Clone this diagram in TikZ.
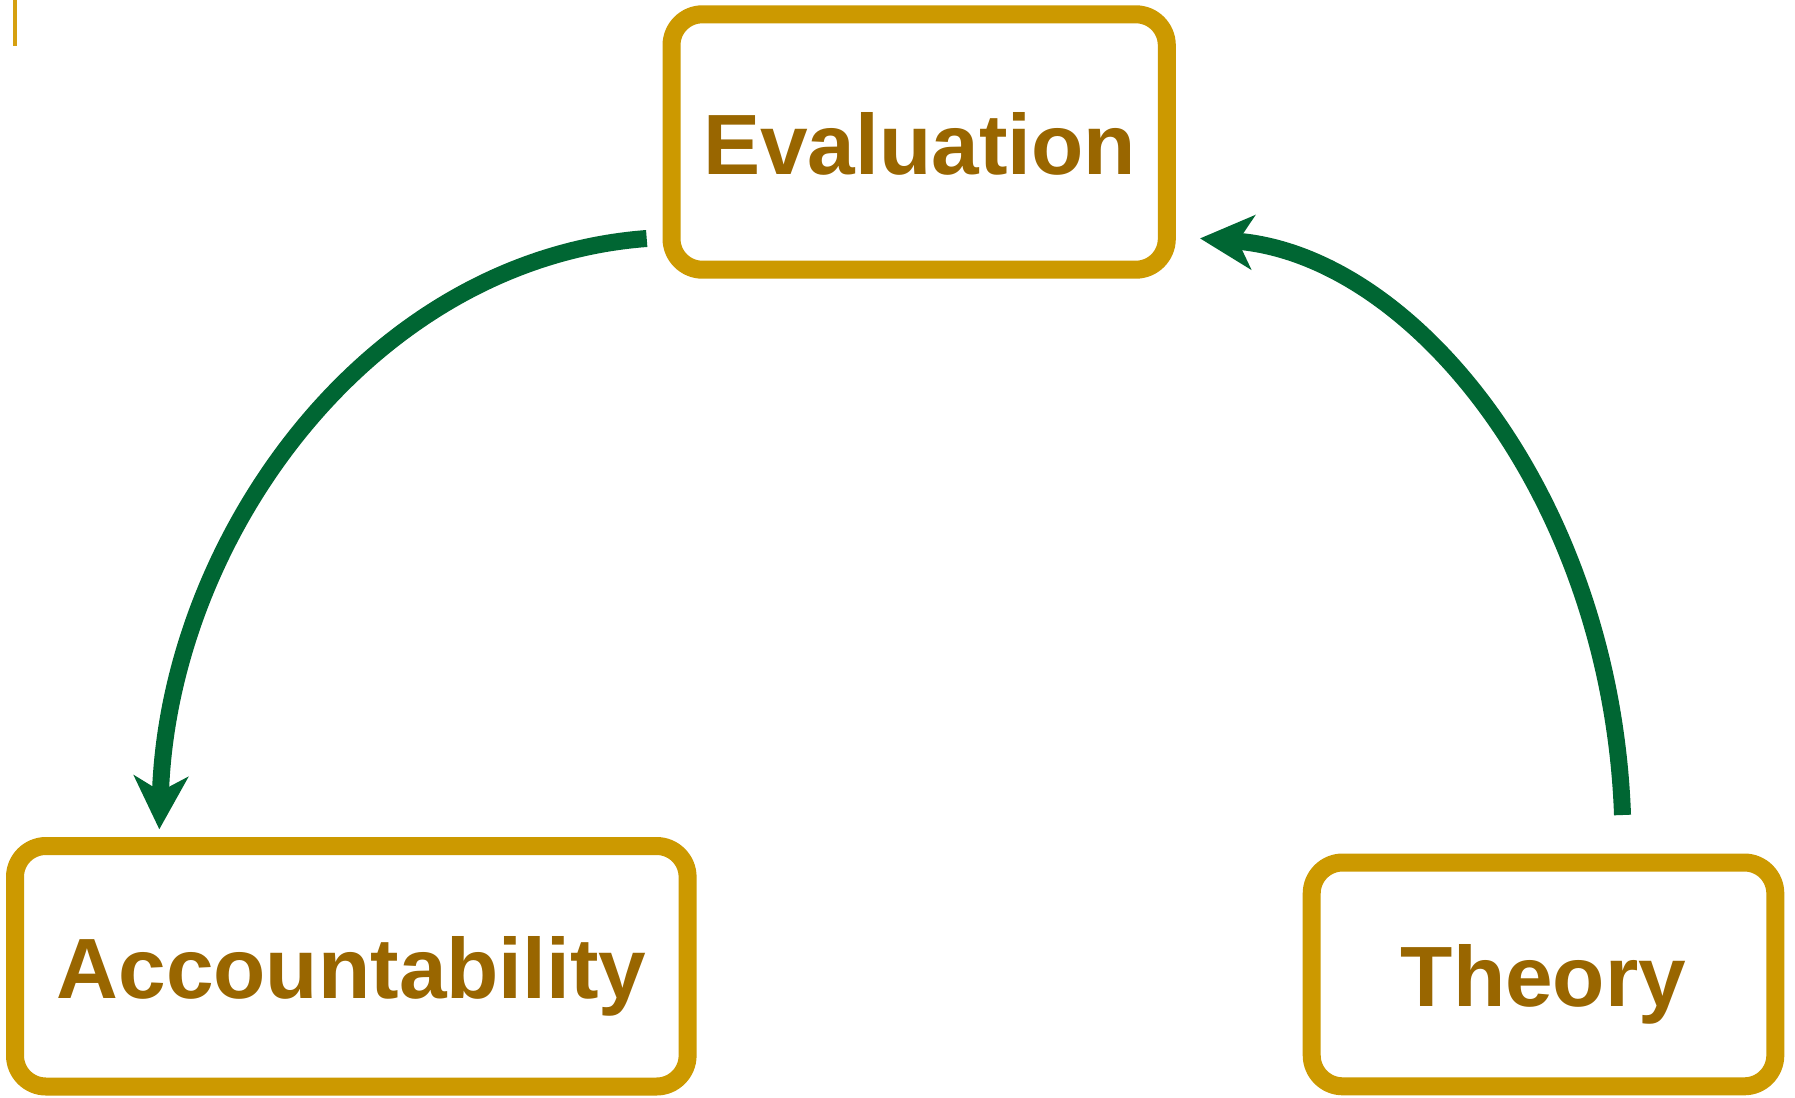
\documentclass[tikz,border=0pt]{standalone}
\usepackage{fontspec}
\setmainfont{Liberation Sans}
\usetikzlibrary{arrows.meta}
\definecolor{boxgold}{HTML}{CC9900}
\definecolor{textbrown}{HTML}{996600}
\definecolor{arrowgreen}{HTML}{006633}
\definecolor{markgold}{RGB}{214,160,16}
\tikzset{
  boxstyle/.style={draw=boxgold, line width=18pt, rounded corners=31pt, fill=white, inner sep=0pt, outer sep=0pt},
  labelstyle/.style={text=textbrown, font=\fontsize{85.6}{100}\selectfont\bfseries, inner sep=0pt, anchor=base},
  flowarrow/.style={draw=arrowgreen, line width=17pt, -{Stealth[length=53pt, width=54pt, inset=15pt]}}
}
\begin{document}
\begin{tikzpicture}[x=1pt, y=-1pt]
\useasboundingbox[fill=white] (0,0) rectangle (1795,1097);
% small mark at top left
\coordinate (marktop) at (15.3,0);
\coordinate (markbot) at (15.3,46);
\draw[markgold, line width=4pt] (marktop) -- (markbot);
% boxes
\node[boxstyle, minimum width=495.3pt, minimum height=255.4pt] (evalbox) at (919.15,142) {};
\node[boxstyle, minimum width=672.6pt, minimum height=240.5pt] (accbox) at (351.3,966.25) {};
\node[boxstyle, minimum width=463.6pt, minimum height=223.8pt] (theobox) at (1543.5,974.4) {};
% labels
\node[labelstyle] (evaltext) at (919.5,174) {Evaluation};
\node[labelstyle] (acctext) at (351.5,998.3) {Accountability};
\node[labelstyle] (theotext) at (1543.4,1006) {Theory};
% connectors
\coordinate (evalout) at (646.7,238.5);
\coordinate (accin) at (159.3,829.3);
\coordinate (theoout) at (1622.5,815);
\coordinate (evalin) at (1200,238.4);
\draw[flowarrow] (evalout) .. controls (367.5,259.4) and (168.6,539.3) .. (accin);
\draw[flowarrow] (theoout) .. controls (1611.2,500) and (1415,254.5) .. (evalin);
\end{tikzpicture}
\end{document}
